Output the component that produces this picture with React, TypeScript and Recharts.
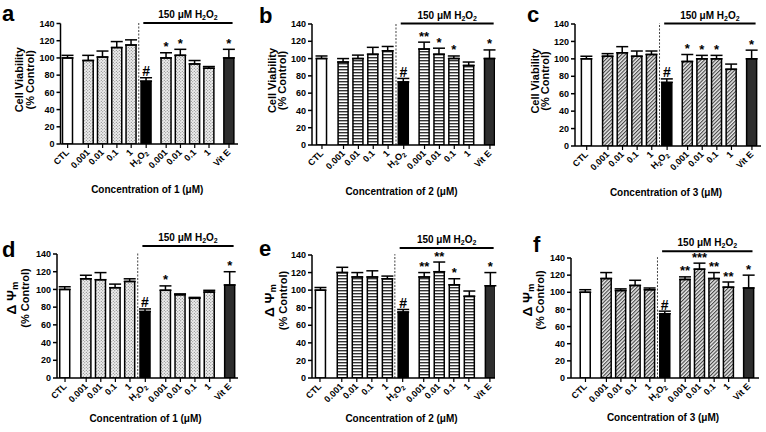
import React from 'react';
import { BarChart, Bar, XAxis, YAxis, ErrorBar, Cell, ReferenceLine, LabelList } from 'recharts';

// x slots: the gaps after CTL, around H2O2 and before Vit E are wider
const positions = [0, 1.45, 2.45, 3.45, 4.45, 5.5, 6.9, 7.9, 8.9, 9.9, 11.3];
const tickLabels = ['CTL', '0.001', '0.01', '0.1', '1', 'H2O2', '0.001', '0.01', '0.1', '1', 'Vit E'];
const groups = ['ctl', 'cmp', 'cmp', 'cmp', 'cmp', 'h2o2', 'cmp', 'cmp', 'cmp', 'cmp', 'vite'];
const yTicks = [0, 20, 40, 60, 80, 100, 120, 140];

// cell viability, compounds 1-3
const viab1 = [100, 97, 101, 112, 115, 73, 100, 103, 93, 88, 100];
const viab1Err = [3, 6, 7, 7, 6, 4, 6, 7, 4, 2, 10];
const viab1Sig = ['', '', '', '', '', '#', '*', '*', '', '', '*'];

const viab2 = [100, 96, 100, 105, 109, 73, 111, 105, 100, 92, 100];
const viab2Err = [3, 4, 4, 8, 5, 4, 8, 7, 3, 4, 10];
const viab2Sig = ['', '', '', '', '', '#', '**', '*', '*', '', '*'];

const viab3 = [100, 103, 107, 103, 105, 73, 97, 100, 100, 88, 100];
const viab3Err = [3, 3, 7, 6, 4, 4, 8, 4, 4, 6, 10];
const viab3Sig = ['', '', '', '', '', '#', '*', '*', '*', '', '*'];

// mitochondrial membrane potential, compounds 1-3
const psi1 = [100, 112, 111, 102, 109, 75, 99, 94, 90, 97, 105];
const psi1Err = [3, 4, 8, 4, 3, 3, 5, 1, 1, 2, 15];
const psi1Sig = ['', '', '', '', '', '#', '*', '', '', '', '*'];

const psi2 = [100, 120, 115, 115, 113, 75, 115, 121, 106, 93, 105];
const psi2Err = [3, 6, 5, 7, 3, 3, 5, 11, 7, 6, 15];
const psi2Sig = ['', '', '', '', '', '#', '**', '**', '*', '', '*'];

const psi3 = [100, 116, 102, 108, 103, 75, 115, 127, 116, 106, 105];
const psi3Err = [3, 7, 2, 6, 2, 3, 3, 7, 7, 6, 15];
const psi3Sig = ['', '', '', '', '', '#', '**', '***', '**', '**', '*'];

const FONT = '"Liberation Sans", Arial, Helvetica, sans-serif';

type Panel = {
  id: string;
  compound: string;
  metric: 'cv' | 'psi';
  fill: 'dots' | 'hstripe' | 'diag';
  values: number[];
  errs: number[];
  sigs: string[];
  left: number;
  top: number;
  width: number;
  height: number;
  margin: { top: number; right: number; bottom: number; left: number };
  domain: [number, number];
  bracketY: number;
  xTitleDy: number;
  yTitleOff: [number, number];
  yTitleLift: number;
  letterX: number;
  letterY: number;
};

const panels: Panel[] = [
  {
    id: 'a', compound: '1', metric: 'cv', fill: 'dots', values: viab1, errs: viab1Err, sigs: viab1Sig,
    left: 0, top: 0, width: 255, height: 215, margin: { top: 23.5, right: 17, bottom: 21, left: 32.5 },
    domain: [-0.5, 11.93], bracketY: 140.5, xTitleDy: 49, yTitleOff: [42, 31], yTitleLift: 4, letterX: 2, letterY: 21,
  },
  {
    id: 'b', compound: '2', metric: 'cv', fill: 'hstripe', values: viab2, errs: viab2Err, sigs: viab2Sig,
    left: 255, top: 0, width: 255, height: 215, margin: { top: 24, right: 15, bottom: 20, left: 29 },
    domain: [-0.67, 11.64], bracketY: 140.5, xTitleDy: 50, yTitleOff: [40, 30], yTitleLift: 4, letterX: 259, letterY: 23,
  },
  {
    id: 'c', compound: '3', metric: 'cv', fill: 'diag', values: viab3, errs: viab3Err, sigs: viab3Sig,
    left: 510, top: 0, width: 256, height: 215, margin: { top: 24, right: 5, bottom: 19, left: 37 },
    domain: [-0.8, 11.92], bracketY: 140.5, xTitleDy: 50, yTitleOff: [40, 30], yTitleLift: 4, letterX: 527, letterY: 22,
  },
  {
    id: 'd', compound: '1', metric: 'psi', fill: 'dots', values: psi1, errs: psi1Err, sigs: psi1Sig,
    left: 0, top: 215, width: 255, height: 217, margin: { top: 39, right: 17, bottom: 4, left: 29 },
    domain: [-0.55, 11.85], bracketY: 149, xTitleDy: 44, yTitleOff: [46, 32], yTitleLift: 18, letterX: 2, letterY: 257,
  },
  {
    id: 'e', compound: '2', metric: 'psi', fill: 'hstripe', values: psi2, errs: psi2Err, sigs: psi2Sig,
    left: 255, top: 215, width: 255, height: 217, margin: { top: 40, right: 15, bottom: 4, left: 29 },
    domain: [-0.53, 11.64], bracketY: 148, xTitleDy: 44, yTitleOff: [43, 29], yTitleLift: 16, letterX: 259, letterY: 256,
  },
  {
    id: 'f', compound: '3', metric: 'psi', fill: 'diag', values: psi3, errs: psi3Err, sigs: psi3Sig,
    left: 510, top: 215, width: 256, height: 217, margin: { top: 43, right: 7, bottom: 4, left: 33 },
    domain: [-1.0, 12.0], bracketY: 148, xTitleDy: 43, yTitleOff: [44, 31], yTitleLift: 18, letterX: 533, letterY: 252,
  },
];

const h2o2 = (sub: number) => (
  <>
    H<tspan dy={2} fontSize={sub}>2</tspan>
    <tspan dy={-2}>O</tspan>
    <tspan dy={2} fontSize={sub}>2</tspan>
  </>
);

function xTick(props: any) {
  const { x, y, payload } = props;
  const i = positions.indexOf(payload.value);
  const label = tickLabels[i] ?? '';
  const tx = Number(x) + 2;
  const ty = Number(y) + 4;
  return (
    <text
      x={tx}
      y={ty}
      textAnchor="end"
      fontSize={9}
      fontWeight="bold"
      fill="#000"
      transform={`rotate(-45 ${tx} ${ty})`}
    >
      {label === 'H2O2' ? h2o2(6.5) : label}
    </text>
  );
}

function fillFor(kind: string, p: Panel) {
  if (kind === 'ctl') return '#fff';
  if (kind === 'h2o2') return '#000';
  if (kind === 'vite') return '#2e2e2e';
  return `url(#${p.fill}-${p.id})`;
}

function ChartPanel({ p }: { p: Panel }) {
  const rows = positions.map((pos, i) => ({
    pos,
    value: p.values[i],
    err: [0, p.errs[i]],
    errUp: p.errs[i],
    sig: p.sigs[i],
    kind: groups[i],
  }));

  const sigLabel = (lp: any) => {
    const row = rows[lp.index];
    if (!row || !row.sig) return null;
    const perUnit = Number(lp.height) / row.value;
    const topY = Number(lp.y) - row.errUp * perUnit;
    return (
      <text
        x={Number(lp.x) + Number(lp.width) / 2}
        y={topY - 1.5}
        textAnchor="middle"
        fontSize={row.sig === '#' ? 14 : 13}
        fontWeight="bold"
        fill="#000"
      >
        {row.sig}
      </text>
    );
  };

  const yTitle = (lp: any) => {
    const vb = lp.viewBox;
    const ax = vb.x + vb.width;
    const cy = vb.y + vb.height / 2 - p.yTitleLift;
    const x1 = ax - p.yTitleOff[0];
    const x2 = ax - p.yTitleOff[1];
    return (
      <g fontWeight="bold" fill="#000">
        <text transform={`rotate(-90 ${x1} ${cy})`} x={x1} y={cy} textAnchor="middle" dominantBaseline="central"
          fontSize={p.metric === 'cv' ? 11 : 13.5}>
          {p.metric === 'cv' ? 'Cell Viability' : (
            <>Δ Ψ<tspan dy={3} fontSize={9.5}>m</tspan></>
          )}
        </text>
        <text transform={`rotate(-90 ${x2} ${cy})`} x={x2} y={cy} textAnchor="middle" dominantBaseline="central" fontSize={11}>
          (% Control)
        </text>
      </g>
    );
  };

  const xTitle = (lp: any) => {
    const vb = lp.viewBox;
    return (
      <text x={vb.x + vb.width / 2 - 2} y={vb.y + p.xTitleDy} textAnchor="middle" fontSize={10} fontWeight="bold" fill="#000">
        Concentration of {p.compound} (μM)
      </text>
    );
  };

  const bracketLabel = (lp: any) => {
    const vb = lp.viewBox;
    return (
      <text x={vb.x + vb.width / 2} y={vb.y - 5} textAnchor="middle" fontSize={10} fontWeight="bold" fill="#000">
        150 μM {h2o2(7)}
      </text>
    );
  };

  return (
    <div style={{ position: 'absolute', left: p.left, top: p.top, width: p.width, height: p.height }}>
      <BarChart width={p.width} height={p.height} data={rows} margin={p.margin} style={{ fontFamily: FONT }}>
        <defs>
          <pattern id={`dots-${p.id}`} width="3" height="3" patternUnits="userSpaceOnUse">
            <rect width="3" height="3" fill="#eeeeee" />
            <circle cx="0.8" cy="0.8" r="0.55" fill="#666" />
            <circle cx="2.3" cy="2.3" r="0.55" fill="#666" />
          </pattern>
          <pattern id={`hstripe-${p.id}`} width="4" height="3" patternUnits="userSpaceOnUse">
            <rect width="4" height="3" fill="#fff" />
            <rect y="0" width="4" height="1.4" fill="#333" />
          </pattern>
          <pattern id={`diag-${p.id}`} width="2.6" height="2.6" patternUnits="userSpaceOnUse" patternTransform="rotate(45)">
            <rect width="2.6" height="2.6" fill="#eaeaea" />
            <rect x="0" width="1.1" height="2.6" fill="#444" />
          </pattern>
        </defs>
        <XAxis
          type="number"
          dataKey="pos"
          domain={p.domain}
          ticks={positions}
          interval={0}
          allowDataOverflow
          height={50}
          tickSize={4}
          tickMargin={1}
          axisLine={{ stroke: '#000', strokeWidth: 1.5 }}
          tickLine={{ stroke: '#000', strokeWidth: 1.2 }}
          tick={xTick}
          label={xTitle}
        />
        <YAxis
          type="number"
          domain={[0, 140]}
          ticks={yTicks}
          interval={0}
          allowDataOverflow
          width={28}
          tickSize={4}
          tickMargin={2}
          axisLine={{ stroke: '#000', strokeWidth: 1.5 }}
          tickLine={{ stroke: '#000', strokeWidth: 1.5 }}
          tick={{ fontSize: 9, fontWeight: 'bold', fill: '#000' }}
          label={yTitle}
        />
        <ReferenceLine
          segment={[{ x: 4.98, y: 0 }, { x: 4.98, y: 141 }]}
          stroke="#444"
          strokeDasharray="2 1.5"
          strokeWidth={1}
          ifOverflow="visible"
        />
        <ReferenceLine
          segment={[{ x: 5.3, y: p.bracketY }, { x: 11.55, y: p.bracketY }]}
          stroke="#000"
          strokeWidth={2}
          ifOverflow="visible"
          label={bracketLabel}
        />
        <Bar dataKey="value" barSize={10} stroke="#000" strokeWidth={1.5} isAnimationActive={false}>
          {rows.map((r, i) => (
            <Cell key={i} fill={fillFor(r.kind, p)} />
          ))}
          <ErrorBar dataKey="err" direction="y" width={6} stroke="#000" strokeWidth={1.5} />
          <LabelList dataKey="sig" content={sigLabel} />
        </Bar>
      </BarChart>
    </div>
  );
}

export default function App() {
  return (
    <div style={{ position: 'absolute', left: 0, top: 0, width: 766, height: 432, background: '#fff', fontFamily: FONT }}>
      {panels.map((p) => (
        <ChartPanel key={p.id} p={p} />
      ))}
      <svg width={766} height={432} style={{ position: 'absolute', left: 0, top: 0, pointerEvents: 'none' }}>
        {panels.map((p) => (
          <text key={p.id} x={p.letterX} y={p.letterY} fontSize={22} fontWeight="bold" fill="#000" fontFamily={FONT}>
            {p.id}
          </text>
        ))}
      </svg>
    </div>
  );
}
